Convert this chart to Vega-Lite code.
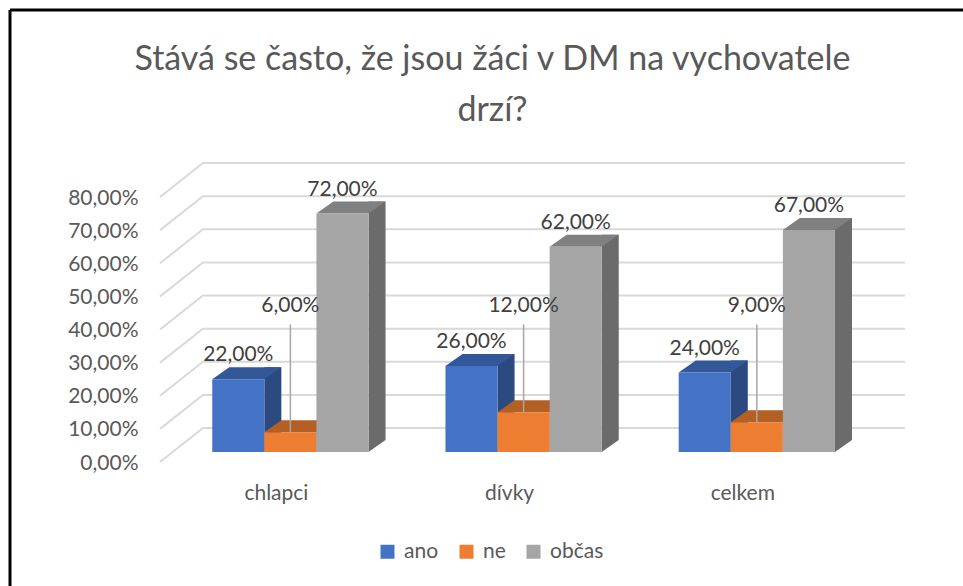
{
  "$schema": "https://vega.github.io/schema/vega-lite/v6.json",
  "width": 953,
  "height": 576,
  "autosize": {"type": "none"},
  "padding": {"left": 10, "top": 10, "right": 0, "bottom": 0},
  "background": "white",
  "config": {
    "locale": {"number": {"decimal": ",", "thousands": " ", "grouping": [3], "currency": ["", " Kč"]}},
    "font": "Lato",
    "view": {"stroke": "#000000", "strokeWidth": 3, "strokeDash": [953, 1529, 576, 0]}
  },
  "title": {
    "text": ["Stává se často, že jsou žáci v DM na vychovatele", "drzí?"],
    "font": "Lato",
    "fontSize": 34,
    "fontWeight": "normal",
    "color": "#595959",
    "anchor": "middle",
    "lineHeight": 51,
    "offset": 0,
    "dx": 6,
    "dy": 118
  },
  "datasets": {
    "bars": [
      {"group": "chlapci", "series": "ano", "value": 0.22},
      {"group": "chlapci", "series": "ne", "value": 0.06},
      {"group": "chlapci", "series": "občas", "value": 0.72},
      {"group": "dívky", "series": "ano", "value": 0.26},
      {"group": "dívky", "series": "ne", "value": 0.12},
      {"group": "dívky", "series": "občas", "value": 0.62},
      {"group": "celkem", "series": "ano", "value": 0.24},
      {"group": "celkem", "series": "ne", "value": 0.09},
      {"group": "celkem", "series": "občas", "value": 0.67}
    ],
    "ticks": [
      {"v": 0}, {"v": 0.1}, {"v": 0.2}, {"v": 0.3}, {"v": 0.4},
      {"v": 0.5}, {"v": 0.6}, {"v": 0.7}, {"v": 0.8}
    ]
  },
  "resolve": {"scale": {"xOffset": "independent"}},
  "layer": [
    {
      "data": {"name": "ticks"},
      "mark": {"type": "point", "shape": "M-326.5,10 L-283.5,-24 L418.5,-24", "size": 4, "filled": false, "stroke": "#D9D9D9", "strokeWidth": 2, "opacity": 1},
      "encoding": {
        "y": {
          "field": "v", "type": "quantitative",
          "scale": {"domain": [0, 0.8], "range": [442, 177], "nice": false, "zero": true},
          "axis": {"values": [0, 0.1, 0.2, 0.3, 0.4, 0.5, 0.6, 0.7, 0.8], "format": ".2%", "title": null, "domain": false, "ticks": false, "grid": false, "labelFont": "Lato", "labelFontSize": 21, "labelColor": "#595959", "offset": -128, "labelPadding": 0, "labelOffset": 11}
        }
      }
    },
    {
      "data": {"name": "bars"},
      "mark": {"type": "bar", "width": 17, "yOffset": -12, "y2Offset": -12},
      "encoding": {
        "x": {
          "field": "group", "type": "nominal", "sort": ["chlapci", "dívky", "celkem"],
          "scale": {"domain": ["chlapci", "dívky", "celkem"], "range": [162.6, 864.6], "paddingInner": 0.33, "paddingOuter": 0.17},
          "axis": {"title": null, "domain": false, "ticks": false, "grid": false, "labelFont": "Lato", "labelFontSize": 21, "labelColor": "#595959", "labelAngle": 0, "labelBaseline": "middle", "offset": -93, "labelPadding": 0, "labelOffset": -14}
        },
        "xOffset": {
          "field": "series", "type": "nominal", "sort": ["ano", "ne", "občas"],
          "scale": {"domain": ["ano", "ne", "občas"], "range": [34.55, 190.85], "paddingInner": 0, "paddingOuter": 0}
        },
        "y": {
          "field": "value", "type": "quantitative",
          "scale": {"domain": [0, 0.8], "range": [442, 177], "nice": false, "zero": true},
          "axis": {"values": [0, 0.1, 0.2, 0.3, 0.4, 0.5, 0.6, 0.7, 0.8], "format": ".2%", "title": null, "domain": false, "ticks": false, "grid": false, "labelFont": "Lato", "labelFontSize": 21, "labelColor": "#595959", "offset": -128, "labelPadding": 0, "labelOffset": 11}
        },
        "y2": {"datum": 0},
        "fill": {"condition": [{"test": "datum.series === 'ano'", "value": "#2C4A80"}, {"test": "datum.series === 'ne'", "value": "#9A5222"}], "value": "#6B6B6B"}
      }
    },
    {
      "data": {"name": "bars"},
      "encoding": {
        "x": {
          "field": "group", "type": "nominal", "sort": ["chlapci", "dívky", "celkem"],
          "scale": {"domain": ["chlapci", "dívky", "celkem"], "range": [162.6, 864.6], "paddingInner": 0.33, "paddingOuter": 0.17},
          "axis": {"title": null, "domain": false, "ticks": false, "grid": false, "labelFont": "Lato", "labelFontSize": 21, "labelColor": "#595959", "labelAngle": 0, "labelBaseline": "middle", "offset": -93, "labelPadding": 0, "labelOffset": -14}
        },
        "xOffset": {
          "field": "series", "type": "nominal", "sort": ["ano", "ne", "občas"],
          "scale": {"domain": ["ano", "ne", "občas"], "paddingInner": 0, "paddingOuter": 0}
        },
        "y": {
          "field": "value", "type": "quantitative",
          "scale": {"domain": [0, 0.8], "range": [442, 177], "nice": false, "zero": true},
          "axis": {"values": [0, 0.1, 0.2, 0.3, 0.4, 0.5, 0.6, 0.7, 0.8], "format": ".2%", "title": null, "domain": false, "ticks": false, "grid": false, "labelFont": "Lato", "labelFontSize": 21, "labelColor": "#595959", "offset": -128, "labelPadding": 0, "labelOffset": 11}
        }
      },
      "layer": [
        {
          "mark": {"type": "point", "shape": "M26.05,0 L26.05,-12 L43.05,-12 Z", "size": 4, "filled": true, "opacity": 1, "strokeWidth": 0},
          "encoding": {
            "y": {"datum": 0},
            "fill": {"condition": [{"test": "datum.series === 'ano'", "value": "#2C4A80"}, {"test": "datum.series === 'ne'", "value": "#9A5222"}], "value": "#6B6B6B"}
          }
        },
        {
          "mark": {"type": "point", "shape": "M-26.05,0 L26.05,0 L43.05,-12 L-9.05,-12 Z", "size": 4, "filled": true, "opacity": 1, "strokeWidth": 0},
          "encoding": {
            "fill": {"condition": [{"test": "datum.series === 'ano'", "value": "#33589A"}, {"test": "datum.series === 'ne'", "value": "#B45F24"}], "value": "#808080"}
          }
        },
        {
          "mark": {"type": "bar"},
          "encoding": {
            "color": {
              "field": "series", "type": "nominal", "sort": ["ano", "ne", "občas"],
              "scale": {"domain": ["ano", "ne", "občas"], "range": ["#4472C4", "#ED7D31", "#A5A5A5"]},
              "legend": {"orient": "none", "legendX": 367, "legendY": 531, "direction": "horizontal", "title": null, "symbolType": "square", "symbolSize": 196, "symbolStrokeWidth": 0, "symbolOpacity": 1, "labelFont": "Lato", "labelFontSize": 21, "labelColor": "#595959", "columnPadding": 17, "labelOffset": 6}
            }
          }
        },
        {
          "transform": [{"filter": "datum.series === 'ne'"}],
          "mark": {"type": "rule", "color": "#A6A6A6", "strokeWidth": 1.5},
          "encoding": {"y2": {"datum": 0.385}}
        },
        {
          "transform": [{"filter": "datum.series !== 'ne'"}],
          "mark": {"type": "text", "font": "Lato", "fontSize": 21, "color": "#404040", "baseline": "middle", "dy": -24},
          "encoding": {"text": {"field": "value", "format": ".2%"}}
        },
        {
          "transform": [{"filter": "datum.series === 'ne'"}],
          "mark": {"type": "text", "font": "Lato", "fontSize": 21, "color": "#404040", "baseline": "middle"},
          "encoding": {"y": {"datum": 0.44}, "text": {"field": "value", "format": ".2%"}}
        }
      ]
    }
  ]
}
